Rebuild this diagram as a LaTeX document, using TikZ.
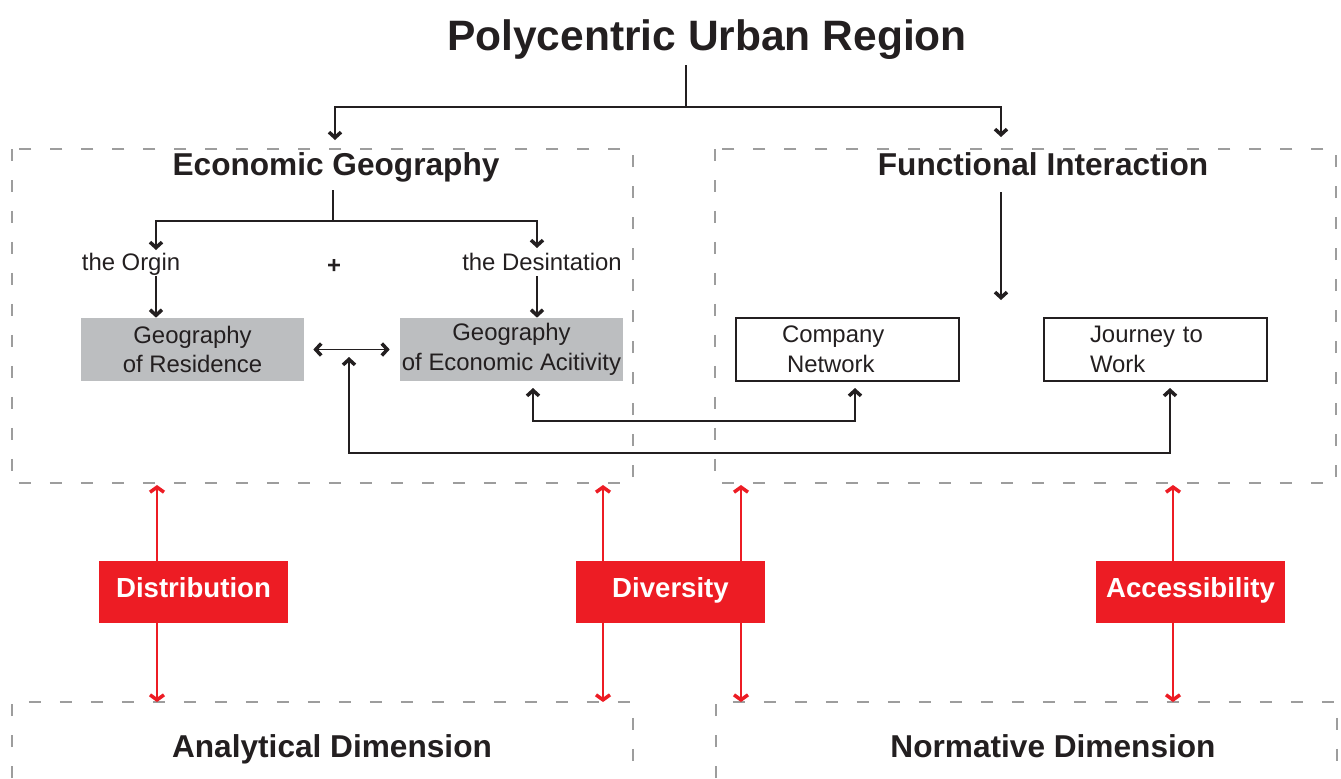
\documentclass[tikz,border=0pt]{standalone}
\usepackage{fontspec}
\setmainfont{Liberation Sans}
\usetikzlibrary{arrows.meta,positioning}
\definecolor{boxgray}{HTML}{BCBEC0}
\definecolor{dashgray}{HTML}{9D9D9D}
\definecolor{signred}{HTML}{ED1C24}
\definecolor{ink}{HTML}{231F20}
\begin{document}
\begin{tikzpicture}[x=0.02cm, y=-0.02cm,
    every node/.style={text=ink},
    head/.style={anchor=base, font=\fontsize{24.2}{28}\selectfont\bfseries},
    section/.style={anchor=base, font=\fontsize{18}{21}\selectfont\bfseries},
    plain/.style={font=\fontsize{13.6}{17}\selectfont},
    graybox/.style={plain, fill=boxgray, minimum width=4.46cm, minimum height=1.26cm, align=center, inner sep=0pt},
    whitebox/.style={plain, draw=ink, line width=0.7pt, text width=2.62cm, inner xsep=0.92cm, minimum height=1.26cm, align=left},
    redbox/.style={fill=signred, text=white, minimum width=3.78cm, text height=0.72cm, text depth=0.52cm, inner sep=0pt, font=\fontsize{15.7}{18}\selectfont\bfseries},
    frame/.style={draw=dashgray, line width=1.5pt, dash pattern=on 0.24cm off 0.38cm},
    barb/.tip={Straight Barb[length=1.1mm, width=2.4mm, line width=2pt]},
    redbarb/.tip={Straight Barb[length=1mm, width=2.8mm, line width=2pt]},
    link/.style={draw=ink, line width=0.75pt, -barb},
    twoway/.style={draw=ink, line width=0.75pt, barb-barb},
    redlink/.style={draw=signred, line width=0.8pt, redbarb-redbarb}
  ]
  \useasboundingbox (0,0) rectangle (1341,778);

  % dashed frames
  \draw[frame] (12,149) rectangle (633,483);
  \draw[frame] (715,149) rectangle (1336,483);
  \draw[frame] (12,778) -- (12,702) -- (633,702) -- (633,778);
  \draw[frame] (716,778) -- (716,702) -- (1337,702) -- (1337,778);

  % headings
  \node[head] (title) at (707,50) {Polycentric Urban Region};
  \node[section] (econ) at (336,175) {Economic Geography};
  \node[section] (func) at (1043,175) {Functional Interaction};
  \node[section] (analyt) at (332,757) {Analytical Dimension};
  \node[section] (norm) at (1053,757) {Normative Dimension};

  % economic geography
  \node[plain, anchor=base] (orgin) at (131,270) {the Orgin};
  \node[plain, anchor=base] (dest) at (542,270) {the Desintation};
  \node[plain, anchor=base, font=\fontsize{13.6}{17}\selectfont\bfseries] (plus) at (334,273) {+};
  \node[graybox] (resid) at (192.5,349.5) {Geography\\of Residence};
  \node[graybox] (activ) at (511.5,349.5) {Geography\\of Economic Acitivity};

  % functional interaction
  \node[whitebox] (company) at (847.5,349.5) {Company\\\hspace*{0.1cm}Network};
  \node[whitebox] (journey) at (1155.5,349.5) {Journey to\\Work};

  % tree from the title
  \coordinate (top) at (686,65);
  \coordinate (split) at (686,107);
  \coordinate (econin) at (335,140);
  \coordinate (funcin) at (1001,137);
  \draw[line width=0.75pt, ink] (top) -- (split);
  \draw[link] (split) -| (econin);
  \draw[link] (split) -| (funcin);

  % origin and destination
  \coordinate (econout) at (333,190);
  \coordinate (esplit) at (333,221);
  \coordinate (orginin) at (156,250);
  \coordinate (destin) at (537,248);
  \coordinate (orginout) at (156,276);
  \coordinate (destout) at (537,276);
  \draw[line width=0.75pt, ink] (econout) -- (esplit);
  \draw[link] (esplit) -| (orginin);
  \draw[link] (esplit) -| (destin);
  \draw[link] (orginout) -- (orginout |- resid.north);
  \draw[link] (destout) -- (destout |- activ.north);
  \draw[twoway] ([xshift=0.18cm]resid.east) -- ([xshift=-0.2cm]activ.west);

  \coordinate (funcout) at (1001,192);
  \coordinate (funcend) at (1001,300);
  \draw[link] (funcout) -- (funcend);

  % links across the frames
  \coordinate (netfoot) at (855,388);
  \coordinate (actfoot) at (533,388);
  \coordinate (jrnfoot) at (1170,388);
  \coordinate (resfoot) at (349,357);
  \draw[twoway] (netfoot) -- (855,421) -| (actfoot);
  \draw[twoway] (jrnfoot) -- (1170,453) -| (resfoot);

  % red dimensions
  \foreach \x/\n in {157/a, 603/b, 741/c, 1173/d} {
    \coordinate (up\n) at (\x,485);
    \coordinate (dn\n) at (\x,702);
    \draw[redlink] (up\n) -- (dn\n);
  }
  \node[redbox] (distr) at (193.5,592) {Distribution};
  \node[redbox] (diver) at (670.5,592) {Diversity};
  \node[redbox] (access) at (1190.5,592) {Accessibility};
\end{tikzpicture}
\end{document}
